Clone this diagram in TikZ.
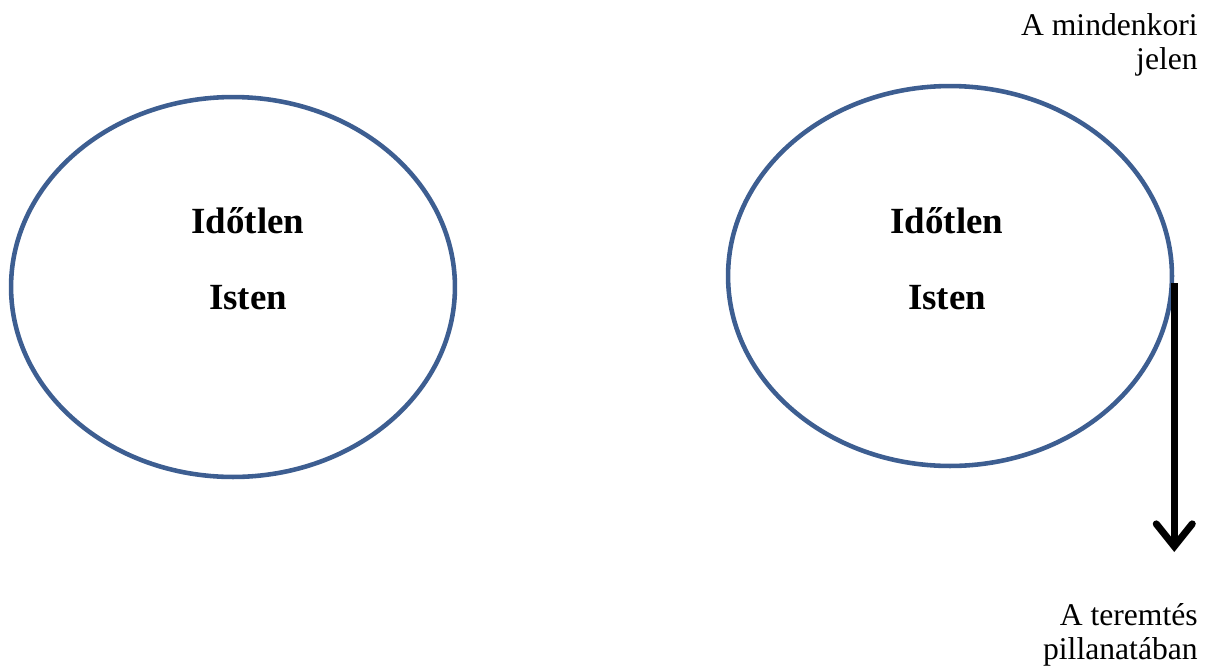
\documentclass[tikz,border=0pt]{standalone}
\usepackage{fontspec}
\setmainfont{Liberation Serif}
\usepackage{tikz}
\usetikzlibrary{shapes.geometric,arrows.meta,positioning,calc}
\definecolor{godblue}{RGB}{61,94,145}

\begin{document}
\begin{tikzpicture}[x=0.02cm, y=-0.02cm,
    god/.style={ellipse, draw=godblue, line width=2.6pt, minimum width=8.88cm, minimum height=7.6cm, inner sep=0pt},
    godtext/.style={font=\fontsize{21}{25}\selectfont\bfseries, inner sep=0pt, anchor=base},
    note/.style={font=\fontsize{18}{19.5}\selectfont, align=right, inner sep=0pt, anchor=north east}]
    \useasboundingbox (0,0) rectangle (1212,666);

    % The two circles of God
    \foreach \side/\cx/\cy/\tx in {l/233/287/248, r/950/276/947} {
        \node[god] (\side god) at (\cx,\cy) {};
        \node[godtext] (\side time) at (\tx,233) {Időtlen};
        \node[godtext] (\side isten) at (\tx,309) {Isten};
    }

    % Notes on the right
    \node[note] (present) at (1198,13) {A mindenkori\\jelen};
    \node[note] (creation) at (1198,603) {A teremtés\\pillanatában};

    % Arrow of time
    \coordinate (start) at (rgod.east |- 0,283);
    \coordinate (stop) at (rgod.east |- 0,552);
    \draw[line width=4pt, -{Straight Barb[length=0.45cm, width=0.72cm, line cap=round]}] (start) -- (stop);
\end{tikzpicture}
\end{document}
